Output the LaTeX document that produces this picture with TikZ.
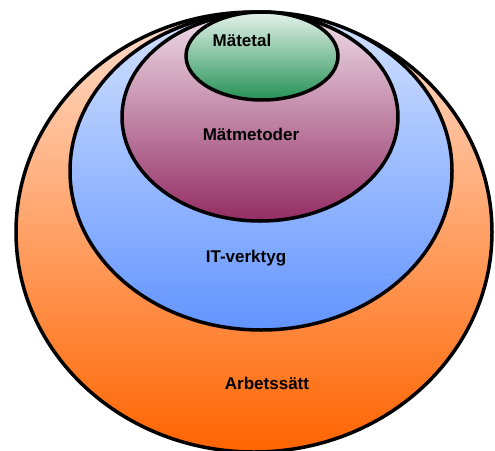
\documentclass[tikz,border=0pt]{standalone}
\usepackage{fontspec}
\setmainfont{Liberation Sans}
\usetikzlibrary{shapes.geometric}
\definecolor{orTop}{RGB}{255,222,205}
\definecolor{orBot}{RGB}{255,100,0}
\definecolor{blTop}{RGB}{212,226,255}
\definecolor{blBot}{RGB}{98,148,255}
\definecolor{puTop}{RGB}{238,222,232}
\definecolor{puBot}{RGB}{148,45,100}
\definecolor{grTop}{RGB}{228,242,235}
\definecolor{grBot}{RGB}{38,145,85}
\tikzset{
  ring/.style={ellipse, draw=black, line width=3.5pt, inner sep=0pt},
  lbl/.style={font=\fontsize{17}{20}\selectfont\bfseries, text=black}
}
\begin{document}
\begin{tikzpicture}[x=1pt,y=-1pt]
\useasboundingbox (0,0) rectangle (495,450);
\clip (0,0) rectangle (495,450);
\node[ring, top color=orTop, bottom color=orBot, minimum width=476pt, minimum height=440pt] (arb) at (254,232) {};
\node[ring, top color=blTop, bottom color=blBot, minimum width=382pt, minimum height=318pt] (it) at (261,171) {};
\node[ring, top color=puTop, bottom color=puBot, minimum width=276pt, minimum height=208pt] (mm) at (260,117) {};
\node[ring, top color=grTop, bottom color=grBot, minimum width=152pt, minimum height=88pt] (mt) at (262,56) {};
\node[lbl] (tmt) at (242,40) {Mätetal};
\node[lbl] (tmm) at (251,134) {Mätmetoder};
\node[lbl] (tit) at (246,258) {IT-verktyg};
\node[lbl] (tarb) at (267,383) {Arbetssätt};
\end{tikzpicture}
\end{document}
